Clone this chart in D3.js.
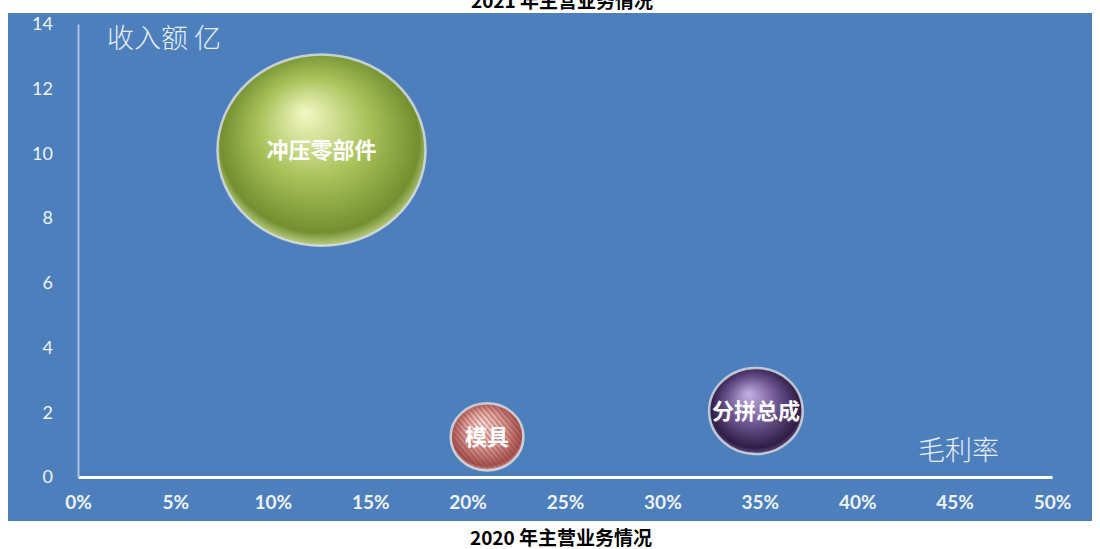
<!DOCTYPE html>
<html>
<head>
<meta charset="utf-8">
<script src="https://cdn.jsdelivr.net/npm/d3@7"></script>
<style>
    body { margin: 0; background: #fff; }
    svg { display: block; }
</style>
</head>
<body>
<svg id="chart"></svg>
<script>
// values
const categories = ["冲压零部件", "模具", "分拼总成"];
const marginRates = [0.125, 0.21, 0.348];
const revenues = [10.1, 1.24, 2.04];
const xTicks = [0, 0.05, 0.1, 0.15, 0.2, 0.25, 0.3, 0.35, 0.4, 0.45, 0.5];
const yTicks = [0, 2, 4, 6, 8, 10, 12, 14];
const topTitle = "2021 年主营业务情况";
const bottomTitle = "2020 年主营业务情况";
const yTitle = "收入额 亿";
const xTitle = "毛利率";

// gradient stops per bubble: highlight, body, dark edge, rim
const bubbleColors = [
    ["#f3f8c4", "#a9c25a", "#738f30", "#bccf86"],
    ["#fbe0dc", "#e0a29c", "#a55450", "#d6a39e"],
    ["#c7b2e2", "#6e5692", "#2f1d46", "#5d4a7c"]
];

class BubbleChart {
    margin = { top: 24, right: 48, bottom: 72, left: 78 }

    constructor(svg, width = 1100, height = 549) {
        this.svg = svg;
        this.width = width;
        this.height = height;
    }

    initialize() {
        this.svg = d3.select(this.svg)
            .attr("width", this.width)
            .attr("height", this.height);

        this.defs = this.svg.append("defs");
        this.panel = this.svg.append("rect");
        this.xAxis = this.svg.append("g");
        this.yAxis = this.svg.append("g");
        this.container = this.svg.append("g");

        this.innerW = this.width - this.margin.left - this.margin.right;
        this.innerH = this.height - this.margin.top - this.margin.bottom;

        this.xScale = d3.scaleLinear().domain([0, 0.5]).range([0, this.innerW]);
        this.yScale = d3.scaleLinear().domain([0, 14]).range([this.innerH, 0]);
        this.rScale = d3.scaleSqrt().domain([0, d3.max(revenues)]).range([0, 104]);

        this.container.attr("transform", `translate(${this.margin.left}, ${this.margin.top})`);
    }

    update() {
        this.panel
            .attr("x", 8).attr("y", 13)
            .attr("width", 1084).attr("height", 508)
            .attr("fill", "#4d7fbc");

        bubbleColors.forEach((c, i) => {
            const g = this.defs.append("radialGradient")
                .attr("id", "bub" + i)
                .attr("cx", "50%").attr("cy", "47%").attr("r", "53%")
                .attr("fx", "42%").attr("fy", "30%");
            g.append("stop").attr("offset", "0%").attr("stop-color", c[0]);
            g.append("stop").attr("offset", "50%").attr("stop-color", c[1]);
            g.append("stop").attr("offset", "90%").attr("stop-color", c[2]);
            g.append("stop").attr("offset", "100%").attr("stop-color", c[3]);
        });

        const stripes = this.defs.append("pattern")
            .attr("id", "stripes")
            .attr("width", 4).attr("height", 4)
            .attr("patternUnits", "userSpaceOnUse")
            .attr("patternTransform", "rotate(-40)");
        stripes.append("rect").attr("width", 1.5).attr("height", 4).attr("fill", "#8a3030").attr("opacity", 0.45);

        this.xAxis
            .attr("transform", `translate(${this.margin.left}, ${this.margin.top + this.innerH})`)
            .call(d3.axisBottom(this.xScale).tickValues(xTicks).tickFormat(d3.format(".0%"))
                .tickSize(0).tickSizeOuter(0).tickPadding(19));
        this.xAxis.select(".domain").attr("stroke", "#ffffff").attr("stroke-width", 3);
        this.xAxis.selectAll("text")
            .attr("fill", "#eef3fa")
            .style("font-family", "Lato, 'Open Sans', sans-serif")
            .style("font-size", "19px")
            .style("font-weight", "bold");

        this.yAxis
            .attr("transform", `translate(${this.margin.left}, ${this.margin.top})`)
            .call(d3.axisLeft(this.yScale).tickValues(yTicks).tickSize(0).tickSizeOuter(0).tickPadding(25));
        this.yAxis.select(".domain").attr("stroke", "#a9c3e6").attr("stroke-width", 2);
        this.yAxis.selectAll("text")
            .attr("fill", "#eef3fa")
            .style("font-family", "Lato, 'Open Sans', sans-serif")
            .style("font-size", "18px");

        const data = categories.map((name, i) => ({
            name, rate: marginRates[i], revenue: revenues[i], i
        }));

        const bubbles = this.container.selectAll("g.bubble")
            .data(data)
            .join("g")
            .attr("class", "bubble")
            .attr("transform", d => `translate(${this.xScale(d.rate)}, ${this.yScale(d.revenue)})`);

        bubbles.append("ellipse")
            .attr("rx", d => this.rScale(d.revenue))
            .attr("ry", d => this.rScale(d.revenue) * 0.92)
            .attr("fill", d => `url(#bub${d.i})`)
            .attr("stroke", "#dde1e6")
            .attr("stroke-opacity", 0.8)
            .attr("stroke-width", 2.5);

        bubbles.filter(d => d.name === "模具").append("ellipse")
            .attr("rx", d => this.rScale(d.revenue) - 2)
            .attr("ry", d => this.rScale(d.revenue) * 0.92 - 2)
            .attr("fill", "url(#stripes)");

        bubbles.append("text")
            .attr("text-anchor", "middle")
            .attr("dy", "0.36em")
            .attr("fill", "#ffffff")
            .style("font-family", "'Noto Sans CJK SC', sans-serif")
            .style("font-size", "22px")
            .style("font-weight", "bold")
            .text(d => d.name);

        this.svg.append("text")
            .attr("x", 107).attr("y", 48)
            .attr("fill", "#e6edf7")
            .style("font-family", "'Noto Sans CJK SC', sans-serif")
            .style("font-size", "27px")
            .style("font-weight", 300)
            .text(yTitle);

        this.svg.append("text")
            .attr("x", 918).attr("y", 460)
            .attr("fill", "#e6edf7")
            .style("font-family", "'Noto Sans CJK SC', sans-serif")
            .style("font-size", "27px")
            .style("font-weight", 300)
            .text(xTitle);

        this.svg.append("text")
            .attr("x", 562).attr("y", 8)
            .attr("text-anchor", "middle")
            .style("font-family", "'Noto Sans CJK SC', sans-serif")
            .style("font-size", "19px")
            .style("font-weight", "bold")
            .text(topTitle);

        this.svg.append("text")
            .attr("x", 561).attr("y", 545)
            .attr("text-anchor", "middle")
            .style("font-family", "'Noto Sans CJK SC', sans-serif")
            .style("font-size", "19px")
            .style("font-weight", "bold")
            .text(bottomTitle);
    }
}

const chart = new BubbleChart(document.getElementById("chart"));
chart.initialize();
chart.update();
</script>
</body>
</html>
